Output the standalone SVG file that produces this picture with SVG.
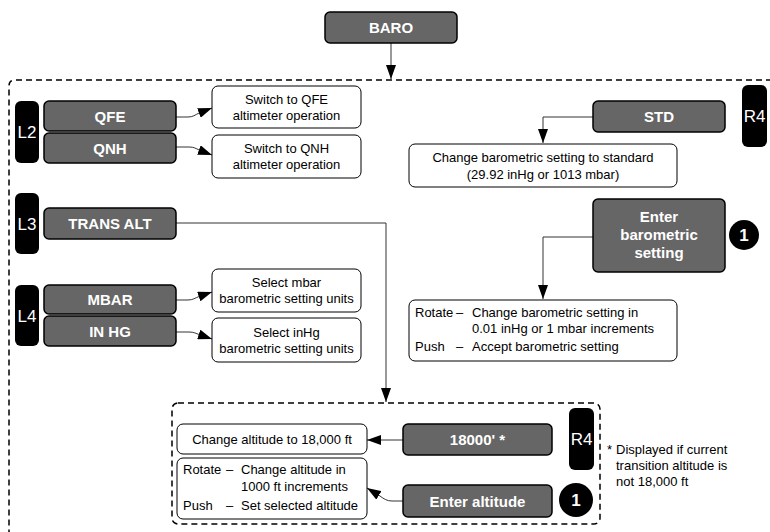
<svg xmlns="http://www.w3.org/2000/svg" width="770" height="532" viewBox="0 0 770 532">
<style>
.key{fill:#666666;stroke:#000;stroke-width:1.5}
.desc{fill:#fff;stroke:#000;stroke-width:1}
.tab{fill:#000}
.kt{font-family:"Liberation Sans",Arial,sans-serif;font-size:15px;font-weight:bold;fill:#fff;text-anchor:middle}
.tt{font-family:"Liberation Sans",Arial,sans-serif;font-size:17px;fill:#fff;text-anchor:middle}
.ct{font-family:"Liberation Sans",Arial,sans-serif;font-size:17px;font-weight:bold;fill:#fff;text-anchor:middle}
.dt{font-family:"Liberation Sans",Arial,sans-serif;font-size:13px;fill:#000}
.mid{text-anchor:middle}
.dash{fill:none;stroke:#000;stroke-width:1.5;stroke-dasharray:6 4}
.conn{fill:none;stroke:#333;stroke-width:1}
</style>
<defs>
<marker id="ah" viewBox="0 0 14 10" refX="14" refY="5" markerWidth="14" markerHeight="10" markerUnits="userSpaceOnUse" orient="auto">
<path d="M0,0 L14,5 L0,10 Z" fill="#000"/>
</marker>
</defs>

<g id="frames">
<path class="dash" d="M772,80 H15 Q9,80 9,86 V534"/>
<rect class="dash" x="172" y="403" width="428" height="121" rx="6"/>
</g>

<g id="connectors">
<path class="conn" d="M391,43 V79" marker-end="url(#ah)"/>
<path class="conn" d="M176,117 H188 C193,117 195,115 199,113 L212,108" marker-end="url(#ah)"/>
<path class="conn" d="M176,147 H189 C194,147 196,148.5 199,150 L212,155" marker-end="url(#ah)"/>
<path class="conn" d="M176,223 H386 V402" marker-end="url(#ah)"/>
<path class="conn" d="M176,300 H188 C193,300 195,298 199,296.5 L212,292" marker-end="url(#ah)"/>
<path class="conn" d="M176,332 H189 C194,332 196,333.5 199,334.5 L212,339" marker-end="url(#ah)"/>
<path class="conn" d="M593,117 H543 V143" marker-end="url(#ah)"/>
<path class="conn" d="M593,237 H543 V299" marker-end="url(#ah)"/>
<path class="conn" d="M403,440 H367" marker-end="url(#ah)"/>
<path class="conn" d="M403,501 H392 C387,501 384,499 380,496 L367,488" marker-end="url(#ah)"/>
</g>

<g id="baro">
<rect class="key" x="325" y="12" width="132" height="31" rx="5"/>
<text class="kt" x="391" y="33">BARO</text>
</g>

<g id="tab-l2">
<rect class="tab" x="15" y="101" width="24" height="62" rx="6"/>
<text class="tt" x="27" y="138">L2</text>
</g>
<g id="qfe">
<rect class="key" x="44" y="101" width="132" height="30" rx="5"/>
<text class="kt" x="110" y="121.5">QFE</text>
</g>
<g id="qnh">
<rect class="key" x="44" y="133" width="132" height="30" rx="5"/>
<text class="kt" x="110" y="153.5">QNH</text>
</g>
<g id="qfe-desc">
<rect class="desc" x="212" y="86" width="149" height="42" rx="6"/>
<text class="dt mid" x="286.5" y="103.5">Switch to QFE</text>
<text class="dt mid" x="286.5" y="119.5">altimeter operation</text>
</g>
<g id="qnh-desc">
<rect class="desc" x="212" y="135" width="149" height="43" rx="6"/>
<text class="dt mid" x="286.5" y="153">Switch to QNH</text>
<text class="dt mid" x="286.5" y="169">altimeter operation</text>
</g>

<g id="tab-l3">
<rect class="tab" x="15" y="193" width="24" height="61" rx="6"/>
<text class="tt" x="27" y="229.5">L3</text>
</g>
<g id="trans-alt">
<rect class="key" x="44" y="208" width="132" height="31" rx="5"/>
<text class="kt" x="110" y="229">TRANS ALT</text>
</g>

<g id="tab-l4">
<rect class="tab" x="15" y="285" width="24" height="61" rx="6"/>
<text class="tt" x="27" y="321.5">L4</text>
</g>
<g id="mbar">
<rect class="key" x="44" y="285" width="132" height="29" rx="5"/>
<text class="kt" x="110" y="305">MBAR</text>
</g>
<g id="inhg">
<rect class="key" x="44" y="316" width="132" height="30" rx="5"/>
<text class="kt" x="110" y="336.5">IN HG</text>
</g>
<g id="mbar-desc">
<rect class="desc" x="212" y="269" width="149" height="43" rx="6"/>
<text class="dt mid" x="286.5" y="287">Select mbar</text>
<text class="dt mid" x="286.5" y="303">barometric setting units</text>
</g>
<g id="inhg-desc">
<rect class="desc" x="212" y="318" width="149" height="44" rx="6"/>
<text class="dt mid" x="286.5" y="336.5">Select inHg</text>
<text class="dt mid" x="286.5" y="352.5">barometric setting units</text>
</g>

<g id="std">
<rect class="key" x="593" y="101" width="132" height="31" rx="5"/>
<text class="kt" x="659" y="122">STD</text>
</g>
<g id="tab-r4-top">
<rect class="tab" x="742" y="85" width="25" height="62" rx="6"/>
<text class="tt" x="754.5" y="122">R4</text>
</g>
<g id="std-desc">
<rect class="desc" x="409" y="144" width="268" height="43" rx="6"/>
<text class="dt mid" x="543" y="162">Change barometric setting to standard</text>
<text class="dt mid" x="543" y="179">(29.92 inHg or 1013 mbar)</text>
</g>

<g id="enter-baro">
<rect class="key" x="593" y="199" width="132" height="73" rx="5"/>
<text class="kt" x="659" y="222">Enter</text>
<text class="kt" x="659" y="240">barometric</text>
<text class="kt" x="659" y="258">setting</text>
</g>
<g id="circle-1-top">
<circle cx="744" cy="235" r="15" fill="#000"/>
<text class="ct" x="744" y="241">1</text>
</g>
<g id="enter-baro-desc">
<rect class="desc" x="409" y="300" width="268" height="61" rx="6"/>
<text class="dt" x="415" y="317">Rotate</text>
<text class="dt" x="456" y="317">–</text>
<text class="dt" x="472" y="317">Change barometric setting in</text>
<text class="dt" x="472" y="333">0.01 inHg or 1 mbar increments</text>
<text class="dt" x="415" y="351">Push</text>
<text class="dt" x="456" y="351">–</text>
<text class="dt" x="472" y="351">Accept barometric setting</text>
</g>

<g id="alt-18000">
<rect class="key" x="403" y="424" width="149" height="31" rx="5"/>
<text class="kt" x="477.5" y="445">18000' *</text>
</g>
<g id="tab-r4-bottom">
<rect class="tab" x="569" y="408" width="25" height="62" rx="6"/>
<text class="tt" x="581.5" y="445">R4</text>
</g>
<g id="alt-18000-desc">
<rect class="desc" x="177" y="424" width="190" height="30" rx="6"/>
<text class="dt mid" x="272" y="443.5">Change altitude to 18,000 ft</text>
</g>

<g id="enter-alt">
<rect class="key" x="403" y="485" width="149" height="32" rx="5"/>
<text class="kt" x="477.5" y="506.5">Enter altitude</text>
</g>
<g id="circle-1-bottom">
<circle cx="576" cy="500" r="17" fill="#000"/>
<text class="ct" x="576" y="506">1</text>
</g>
<g id="enter-alt-desc">
<rect class="desc" x="177" y="458" width="190" height="61" rx="6"/>
<text class="dt" x="183" y="474">Rotate</text>
<text class="dt" x="226" y="474">–</text>
<text class="dt" x="241" y="474">Change altitude in</text>
<text class="dt" x="241" y="491">1000 ft increments</text>
<text class="dt" x="183" y="510">Push</text>
<text class="dt" x="226" y="510">–</text>
<text class="dt" x="241" y="510">Set selected altitude</text>
</g>

<g id="footnote">
<text class="dt" x="607" y="454">*</text>
<text class="dt" x="616" y="454">Displayed if current</text>
<text class="dt" x="616" y="470">transition altitude is</text>
<text class="dt" x="616" y="486">not 18,000 ft</text>
</g>
</svg>
